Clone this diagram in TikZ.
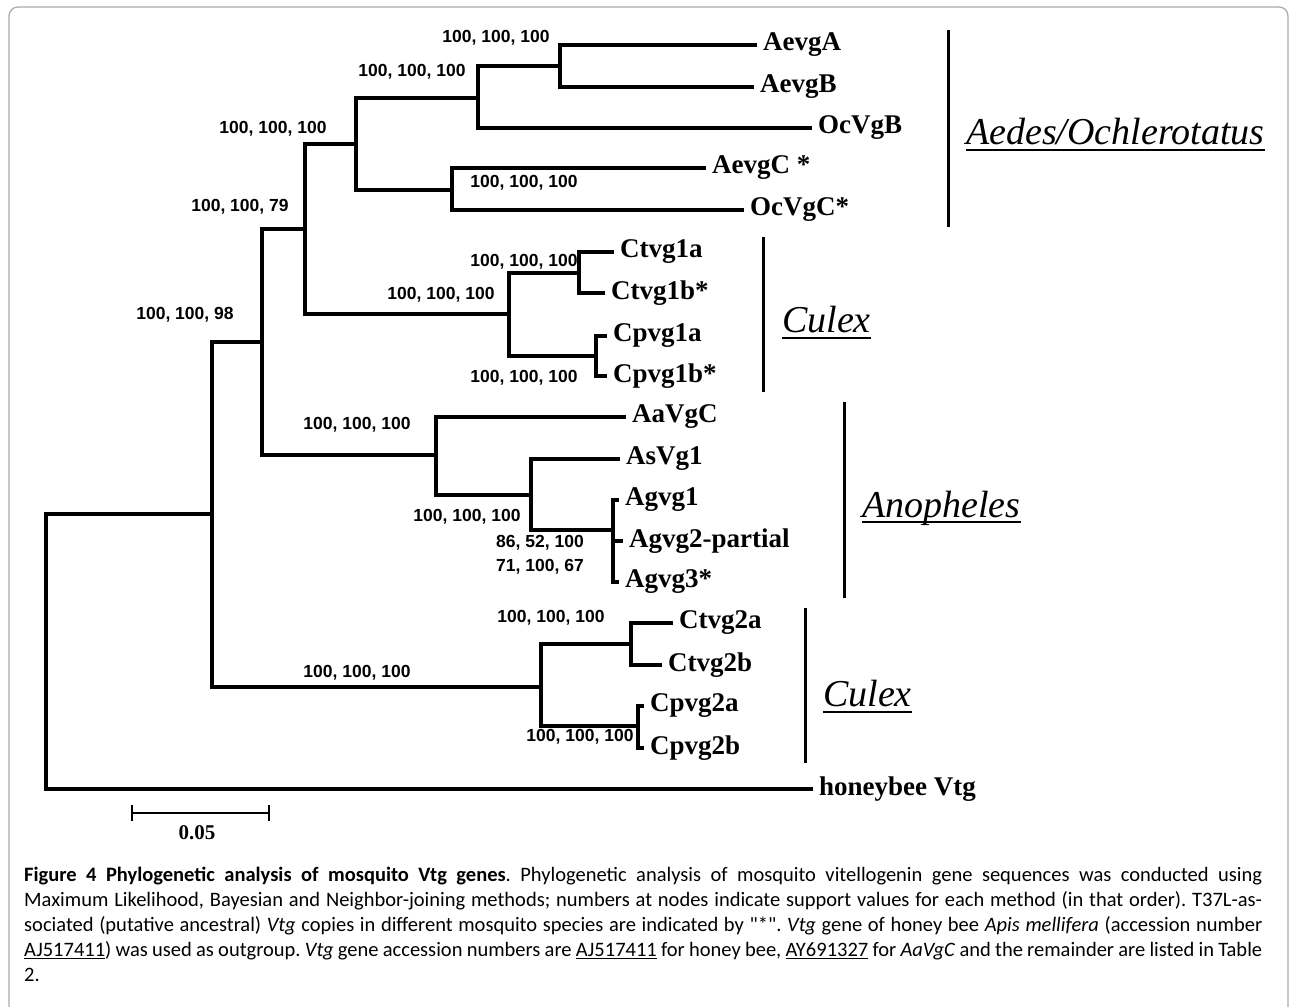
\documentclass[tikz,border=0pt]{standalone}
\usepackage{fontspec}
\newfontfamily\treeserif{Liberation Serif}
\newfontfamily\treesans{Liberation Sans}
\newfontfamily\capfont{Carlito}
\frenchspacing
\begin{document}
\begin{tikzpicture}[x=1pt,y=-1pt,
  br/.style={line width=3.4pt, line join=miter, line cap=rect},
  leaf/.style={anchor=west, inner ysep=0pt, inner xsep=8pt, font=\treeserif\bfseries\fontsize{27}{30}\selectfont},
  sup/.style={inner sep=0pt, font=\treesans\bfseries\fontsize{17.5}{20}\selectfont},
  grp/.style={anchor=west, inner sep=0pt, font=\treeserif\itshape\fontsize{38}{42}\selectfont},
  brk/.style={line width=3pt},
  uline/.style={line width=2.6pt},
  sbar/.style={line width=2.8pt},
]
\useasboundingbox (0,0) rectangle (1291,1007);
\fill[white] (0,0) rectangle (1291,1007);
\draw[gray!65, line width=1.3pt, rounded corners=9pt] (9,7) rectangle (1288,1040);

% internal nodes
\coordinate (R) at (46,600);
\coordinate (A) at (212,514);
\coordinate (B) at (262,342);
\coordinate (C) at (305,229);
\coordinate (D) at (356,144);
\coordinate (E) at (478,98);
\coordinate (F) at (560,66);
\coordinate (G) at (452,190);
\coordinate (H) at (509,314);
\coordinate (I) at (579,273);
\coordinate (J) at (596,356);
\coordinate (K) at (436,455);
\coordinate (L) at (531,495);
\coordinate (M) at (613,530);
\coordinate (P) at (541,687);
\coordinate (N) at (631,644);
\coordinate (O) at (638,726);

% leaves
\node[leaf] (aevga) at (755,45) {AevgA};
\node[leaf] (aevgb) at (752,87) {AevgB};
\node[leaf] (ocvgb) at (810,128) {OcVgB};
\node[leaf] (aevgc) at (704,168) {AevgC *};
\node[leaf] (ocvgc) at (742,210) {OcVgC*};
\node[leaf] (ctvgia) at (612,252) {Ctvg1a};
\node[leaf] (ctvgib) at (603,293) {Ctvg1b*};
\node[leaf] (cpvgia) at (605,336) {Cpvg1a};
\node[leaf] (cpvgib) at (605,376) {Cpvg1b*};
\node[leaf] (aavgc) at (624,417) {AaVgC};
\node[leaf] (asvg) at (618,459) {AsVg1};
\node[leaf] (agvgi) at (617,500) {Agvg1};
\node[leaf] (agvgii) at (621,541) {Agvg2-partial};
\node[leaf] (agvgiii) at (617,582) {Agvg3*};
\node[leaf] (ctvgiia) at (671,623) {Ctvg2a};
\node[leaf] (ctvgiib) at (660,665) {Ctvg2b};
\node[leaf] (cpvgiia) at (642,706) {Cpvg2a};
\node[leaf] (cpvgiib) at (642,748) {Cpvg2b};
\node[leaf] (bee) at (811,789) {honeybee Vtg};

% branches
\draw[br] (A) -| (R) |- (bee.west);
\draw[br] (B) -| (A) |- (P);
\draw[br] (C) -| (B) |- (K);
\draw[br] (D) -| (C) |- (H);
\draw[br] (E) -| (D) |- (G);
\draw[br] (F) -| (E) |- (ocvgb.west);
\draw[br] (aevga.west) -| (F) |- (aevgb.west);
\draw[br] (aevgc.west) -| (G) |- (ocvgc.west);
\draw[br] (I) -| (H) |- (J);
\draw[br] (ctvgia.west) -| (I) |- (ctvgib.west);
\draw[br] (cpvgia.west) -| (J) |- (cpvgib.west);
\draw[br] (aavgc.west) -| (K) |- (L);
\draw[br] (asvg.west) -| (L) |- (M);
\draw[br] (agvgi.west) -| (M) |- (agvgiii.west);
\draw[br] (M |- agvgii.west) -- (agvgii.west);
\draw[br] (N) -| (P) |- (O);
\draw[br] (ctvgiia.west) -| (N) |- (ctvgiib.west);
\draw[br] (cpvgiia.west) -| (O) |- (cpvgiib.west);

% support values
\node[sup] (sF) at (496,38) {100, 100, 100};
\node[sup] (sE) at (412,72) {100, 100, 100};
\node[sup] (sD) at (273,129) {100, 100, 100};
\node[sup] (sG) at (524,183) {100, 100, 100};
\node[sup] (sC) at (240,207) {100, 100, 79};
\node[sup] (sB) at (185,315) {100, 100, 98};
\node[sup] (sI) at (524,262) {100, 100, 100};
\node[sup] (sH) at (441,295) {100, 100, 100};
\node[sup] (sJ) at (524,378) {100, 100, 100};
\node[sup] (sK) at (357,425) {100, 100, 100};
\node[sup] (sL) at (467,517) {100, 100, 100};
\node[sup] (sMa) at (540,543) {86, 52, 100};
\node[sup] (sMb) at (540,567) {71, 100, 67};
\node[sup] (sP) at (357,673) {100, 100, 100};
\node[sup] (sN) at (551,618) {100, 100, 100};
\node[sup] (sO) at (580,737) {100, 100, 100};

% group brackets
\coordinate (aedT) at (948,30);  \coordinate (aedB) at (948,227);
\coordinate (cuaT) at (763,237); \coordinate (cuaB) at (763,392);
\coordinate (anoT) at (844,402); \coordinate (anoB) at (844,598);
\coordinate (cubT) at (805,608); \coordinate (cubB) at (805,763);
\draw[brk] (aedT) -- (aedB);
\draw[brk] (cuaT) -- (cuaB);
\draw[brk] (anoT) -- (anoB);
\draw[brk] (cubT) -- (cubB);
\node[grp] (aed) at (966,132) {Aedes/Ochlerotatus};
\node[grp] (cua) at (782,320) {Culex};
\node[grp] (ano) at (862,508) {Anopheles};
\node[grp] (cub) at (823,694) {Culex};
\foreach \g in {aed,cua,ano,cub}
  \draw[uline] ([yshift=-5pt]\g.base west) -- ([yshift=-5pt]\g.base east);

% scale bar
\coordinate (sb1) at (132,813);
\coordinate (sb2) at (269,813);
\draw[sbar] (sb1) -- (sb2);
\draw[sbar] ([yshift=8pt]sb1) -- ([yshift=-8pt]sb1);
\draw[sbar] ([yshift=8pt]sb2) -- ([yshift=-8pt]sb2);
\node[inner sep=0pt, font=\treeserif\bfseries\fontsize{21}{24}\selectfont] (sbl) at (197,833) {0.05};

% caption
\node[anchor=north west, inner sep=0pt, align=left, font=\capfont\fontsize{20.5}{25}\selectfont] (cap) at (24,867) {%
\makebox[1238pt][s]{\textbf{Figure 4 Phylogenetic analysis of mosquito Vtg genes}. Phylogenetic analysis of mosquito vitellogenin gene sequences was conducted using}\\
\makebox[1238pt][s]{Maximum Likelihood, Bayesian and Neighbor-joining methods; numbers at nodes indicate support values for each method (in that order). T37L-as-}\\
\makebox[1238pt][s]{sociated (putative ancestral) \textit{Vtg} copies in different mosquito species are indicated by "*". \textit{Vtg} gene of honey bee \textit{Apis mellifera} (accession number}\\
\makebox[1238pt][s]{\underline{AJ517411}) was used as outgroup. \textit{Vtg} gene accession numbers are \underline{AJ517411} for honey bee, \underline{AY691327} for \textit{AaVgC} and the remainder are listed in Table}\\
2.};
\end{tikzpicture}
\end{document}
